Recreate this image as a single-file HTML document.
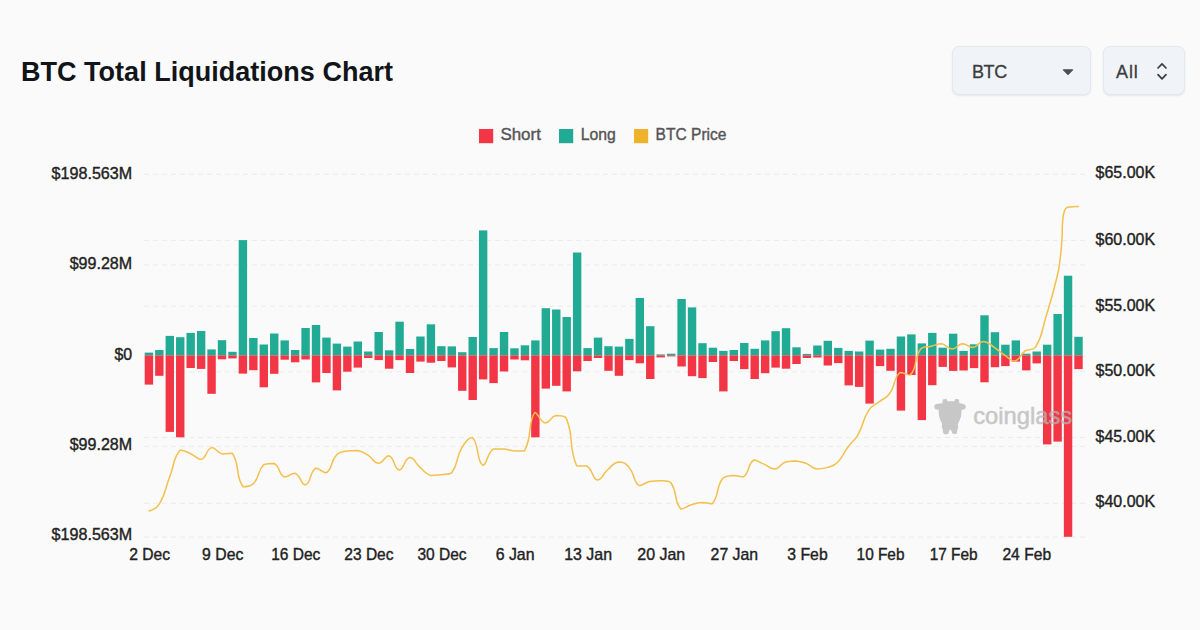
<!DOCTYPE html>
<html><head><meta charset="utf-8"><title>BTC Total Liquidations Chart</title>
<style>
html,body{margin:0;padding:0;}
body{width:1200px;height:630px;background:#fafafa;overflow:hidden;position:relative;font-family:"Liberation Sans",sans-serif;color:#1a1a1a;}
.title{position:absolute;left:21px;top:55.5px;font-size:27px;font-weight:bold;line-height:32px;white-space:nowrap;color:#111418;letter-spacing:0.02px;}
.sel{position:absolute;top:46px;height:49px;box-sizing:border-box;background:#f0f3f7;border:1px solid #e3e8ee;border-radius:7px;box-shadow:0 1px 2px rgba(0,0,0,0.08);font-size:18px;color:#3a3d42;line-height:47px;-webkit-text-stroke:0.3px #3a3d42;}
.sel span{position:absolute;top:2px;}
svg{position:absolute;left:0;top:0;}
svg text{font-family:"Liberation Sans",sans-serif;font-size:17px;fill:#222;stroke:#222;stroke-width:0.4px;}
svg .lg text{fill:#555;stroke:#555;}
</style></head><body>
<div class="title">BTC Total Liquidations Chart</div>
<div class="sel" style="left:952px;width:139px;"><span style="left:19px;letter-spacing:-0.4px;">BTC</span>
<svg width="12" height="7" style="left:108.5px;top:21.5px" viewBox="0 0 12 7"><path d="M1.2,0.8 L10.8,0.8 L6,5.8 Z" fill="#4b4f55" stroke="#4b4f55" stroke-width="1" stroke-linejoin="round"/></svg></div>
<div class="sel" style="left:1103px;width:82px;"><span style="left:12px;letter-spacing:0.9px;">All</span>
<svg width="14" height="22" style="left:51px;top:13px" viewBox="0 0 14 22"><path d="M3,8 L7,3.8 L11,8 M3,14.6 L7,18.8 L11,14.6" fill="none" stroke="#3a3d42" stroke-width="1.7" stroke-linecap="round" stroke-linejoin="round"/></svg></div>
<svg width="1200" height="630" viewBox="0 0 1200 630">
<g><line x1="144" x2="1085" y1="174.3" y2="174.3" stroke="#ebebeb" stroke-width="1" stroke-dasharray="5 4"/><line x1="144" x2="1085" y1="265.0" y2="265.0" stroke="#ebebeb" stroke-width="1" stroke-dasharray="5 4"/><line x1="144" x2="1085" y1="355.7" y2="355.7" stroke="#ebebeb" stroke-width="1" stroke-dasharray="5 4"/><line x1="144" x2="1085" y1="446.4" y2="446.4" stroke="#ebebeb" stroke-width="1" stroke-dasharray="5 4"/><line x1="144" x2="1085" y1="537.1" y2="537.1" stroke="#ebebeb" stroke-width="1" stroke-dasharray="5 4"/><line x1="144" x2="1085" y1="240.4" y2="240.4" stroke="#ebebeb" stroke-width="1" stroke-dasharray="5 4"/><line x1="144" x2="1085" y1="306.1" y2="306.1" stroke="#ebebeb" stroke-width="1" stroke-dasharray="5 4"/><line x1="144" x2="1085" y1="371.8" y2="371.8" stroke="#ebebeb" stroke-width="1" stroke-dasharray="5 4"/><line x1="144" x2="1085" y1="437.6" y2="437.6" stroke="#ebebeb" stroke-width="1" stroke-dasharray="5 4"/><line x1="144" x2="1085" y1="503.3" y2="503.3" stroke="#ebebeb" stroke-width="1" stroke-dasharray="5 4"/></g>
<g><rect x="144.70" y="352.6" width="8.4" height="2.8" fill="#22ab94"/><rect x="144.70" y="355.4" width="8.4" height="29.2" fill="#f23645"/><rect x="155.14" y="350.0" width="8.4" height="5.4" fill="#22ab94"/><rect x="155.14" y="355.4" width="8.4" height="20.4" fill="#f23645"/><rect x="165.59" y="335.9" width="8.4" height="19.5" fill="#22ab94"/><rect x="165.59" y="355.4" width="8.4" height="76.5" fill="#f23645"/><rect x="176.03" y="337.2" width="8.4" height="18.2" fill="#22ab94"/><rect x="176.03" y="355.4" width="8.4" height="81.9" fill="#f23645"/><rect x="186.48" y="332.9" width="8.4" height="22.5" fill="#22ab94"/><rect x="186.48" y="355.4" width="8.4" height="12.6" fill="#f23645"/><rect x="196.92" y="331.0" width="8.4" height="24.4" fill="#22ab94"/><rect x="196.92" y="355.4" width="8.4" height="13.5" fill="#f23645"/><rect x="207.37" y="349.4" width="8.4" height="6.0" fill="#22ab94"/><rect x="207.37" y="355.4" width="8.4" height="38.4" fill="#f23645"/><rect x="217.81" y="340.2" width="8.4" height="15.2" fill="#22ab94"/><rect x="217.81" y="355.4" width="8.4" height="3.9" fill="#f23645"/><rect x="228.26" y="351.8" width="8.4" height="3.6" fill="#22ab94"/><rect x="228.26" y="355.4" width="8.4" height="3.0" fill="#f23645"/><rect x="238.70" y="240.1" width="8.4" height="115.3" fill="#22ab94"/><rect x="238.70" y="355.4" width="8.4" height="18.2" fill="#f23645"/><rect x="249.15" y="338.0" width="8.4" height="17.4" fill="#22ab94"/><rect x="249.15" y="355.4" width="8.4" height="14.8" fill="#f23645"/><rect x="259.60" y="344.5" width="8.4" height="10.9" fill="#22ab94"/><rect x="259.60" y="355.4" width="8.4" height="31.9" fill="#f23645"/><rect x="270.04" y="333.5" width="8.4" height="21.9" fill="#22ab94"/><rect x="270.04" y="355.4" width="8.4" height="18.4" fill="#f23645"/><rect x="280.49" y="340.4" width="8.4" height="15.0" fill="#22ab94"/><rect x="280.49" y="355.4" width="8.4" height="4.3" fill="#f23645"/><rect x="290.93" y="350.0" width="8.4" height="5.4" fill="#22ab94"/><rect x="290.93" y="355.4" width="8.4" height="6.9" fill="#f23645"/><rect x="301.38" y="328.0" width="8.4" height="27.4" fill="#22ab94"/><rect x="301.38" y="355.4" width="8.4" height="4.1" fill="#f23645"/><rect x="311.82" y="325.0" width="8.4" height="30.4" fill="#22ab94"/><rect x="311.82" y="355.4" width="8.4" height="27.0" fill="#f23645"/><rect x="322.26" y="337.6" width="8.4" height="17.8" fill="#22ab94"/><rect x="322.26" y="355.4" width="8.4" height="17.6" fill="#f23645"/><rect x="332.71" y="343.6" width="8.4" height="11.8" fill="#22ab94"/><rect x="332.71" y="355.4" width="8.4" height="35.0" fill="#f23645"/><rect x="343.15" y="346.6" width="8.4" height="8.8" fill="#22ab94"/><rect x="343.15" y="355.4" width="8.4" height="16.3" fill="#f23645"/><rect x="353.60" y="341.5" width="8.4" height="13.9" fill="#22ab94"/><rect x="353.60" y="355.4" width="8.4" height="12.2" fill="#f23645"/><rect x="364.04" y="351.5" width="8.4" height="3.9" fill="#22ab94"/><rect x="364.04" y="355.4" width="8.4" height="2.6" fill="#f23645"/><rect x="374.49" y="332.0" width="8.4" height="23.4" fill="#22ab94"/><rect x="374.49" y="355.4" width="8.4" height="4.7" fill="#f23645"/><rect x="384.94" y="350.3" width="8.4" height="5.1" fill="#22ab94"/><rect x="384.94" y="355.4" width="8.4" height="13.3" fill="#f23645"/><rect x="395.38" y="321.7" width="8.4" height="33.7" fill="#22ab94"/><rect x="395.38" y="355.4" width="8.4" height="4.7" fill="#f23645"/><rect x="405.82" y="349.0" width="8.4" height="6.4" fill="#22ab94"/><rect x="405.82" y="355.4" width="8.4" height="17.6" fill="#f23645"/><rect x="416.27" y="336.5" width="8.4" height="18.9" fill="#22ab94"/><rect x="416.27" y="355.4" width="8.4" height="6.2" fill="#f23645"/><rect x="426.71" y="324.3" width="8.4" height="31.1" fill="#22ab94"/><rect x="426.71" y="355.4" width="8.4" height="7.3" fill="#f23645"/><rect x="437.16" y="346.2" width="8.4" height="9.2" fill="#22ab94"/><rect x="437.16" y="355.4" width="8.4" height="5.6" fill="#f23645"/><rect x="447.61" y="346.4" width="8.4" height="9.0" fill="#22ab94"/><rect x="447.61" y="355.4" width="8.4" height="12.0" fill="#f23645"/><rect x="458.05" y="352.2" width="8.4" height="3.2" fill="#22ab94"/><rect x="458.05" y="355.4" width="8.4" height="35.4" fill="#f23645"/><rect x="468.50" y="337.0" width="8.4" height="18.4" fill="#22ab94"/><rect x="468.50" y="355.4" width="8.4" height="44.6" fill="#f23645"/><rect x="478.94" y="230.4" width="8.4" height="125.0" fill="#22ab94"/><rect x="478.94" y="355.4" width="8.4" height="24.0" fill="#f23645"/><rect x="489.38" y="348.1" width="8.4" height="7.3" fill="#22ab94"/><rect x="489.38" y="355.4" width="8.4" height="27.7" fill="#f23645"/><rect x="499.83" y="332.0" width="8.4" height="23.4" fill="#22ab94"/><rect x="499.83" y="355.4" width="8.4" height="16.1" fill="#f23645"/><rect x="510.27" y="348.3" width="8.4" height="7.1" fill="#22ab94"/><rect x="510.27" y="355.4" width="8.4" height="4.1" fill="#f23645"/><rect x="520.72" y="345.3" width="8.4" height="10.1" fill="#22ab94"/><rect x="520.72" y="355.4" width="8.4" height="4.9" fill="#f23645"/><rect x="531.16" y="340.4" width="8.4" height="15.0" fill="#22ab94"/><rect x="531.16" y="355.4" width="8.4" height="81.9" fill="#f23645"/><rect x="541.61" y="308.2" width="8.4" height="47.2" fill="#22ab94"/><rect x="541.61" y="355.4" width="8.4" height="33.2" fill="#f23645"/><rect x="552.06" y="309.5" width="8.4" height="45.9" fill="#22ab94"/><rect x="552.06" y="355.4" width="8.4" height="30.4" fill="#f23645"/><rect x="562.50" y="317.0" width="8.4" height="38.4" fill="#22ab94"/><rect x="562.50" y="355.4" width="8.4" height="36.0" fill="#f23645"/><rect x="572.94" y="252.5" width="8.4" height="102.9" fill="#22ab94"/><rect x="572.94" y="355.4" width="8.4" height="15.9" fill="#f23645"/><rect x="583.39" y="348.1" width="8.4" height="7.3" fill="#22ab94"/><rect x="583.39" y="355.4" width="8.4" height="5.6" fill="#f23645"/><rect x="593.84" y="337.6" width="8.4" height="17.8" fill="#22ab94"/><rect x="593.84" y="355.4" width="8.4" height="2.6" fill="#f23645"/><rect x="604.28" y="346.2" width="8.4" height="9.2" fill="#22ab94"/><rect x="604.28" y="355.4" width="8.4" height="15.4" fill="#f23645"/><rect x="614.73" y="346.6" width="8.4" height="8.8" fill="#22ab94"/><rect x="614.73" y="355.4" width="8.4" height="20.4" fill="#f23645"/><rect x="625.17" y="338.9" width="8.4" height="16.5" fill="#22ab94"/><rect x="625.17" y="355.4" width="8.4" height="4.7" fill="#f23645"/><rect x="635.62" y="298.0" width="8.4" height="57.4" fill="#22ab94"/><rect x="635.62" y="355.4" width="8.4" height="7.9" fill="#f23645"/><rect x="646.06" y="326.2" width="8.4" height="29.2" fill="#22ab94"/><rect x="646.06" y="355.4" width="8.4" height="23.6" fill="#f23645"/><rect x="656.50" y="354.4" width="8.4" height="1.0" fill="#22ab94"/><rect x="656.50" y="355.4" width="8.4" height="2.0" fill="#f23645"/><rect x="666.95" y="353.7" width="8.4" height="1.7" fill="#22ab94"/><rect x="666.95" y="355.4" width="8.4" height="1.0" fill="#f23645"/><rect x="677.39" y="299.0" width="8.4" height="56.4" fill="#22ab94"/><rect x="677.39" y="355.4" width="8.4" height="11.1" fill="#f23645"/><rect x="687.84" y="307.4" width="8.4" height="48.0" fill="#22ab94"/><rect x="687.84" y="355.4" width="8.4" height="20.8" fill="#f23645"/><rect x="698.29" y="343.2" width="8.4" height="12.2" fill="#22ab94"/><rect x="698.29" y="355.4" width="8.4" height="22.7" fill="#f23645"/><rect x="708.73" y="347.7" width="8.4" height="7.7" fill="#22ab94"/><rect x="708.73" y="355.4" width="8.4" height="6.6" fill="#f23645"/><rect x="719.17" y="350.9" width="8.4" height="4.5" fill="#22ab94"/><rect x="719.17" y="355.4" width="8.4" height="36.0" fill="#f23645"/><rect x="729.62" y="350.0" width="8.4" height="5.4" fill="#22ab94"/><rect x="729.62" y="355.4" width="8.4" height="5.6" fill="#f23645"/><rect x="740.07" y="343.0" width="8.4" height="12.4" fill="#22ab94"/><rect x="740.07" y="355.4" width="8.4" height="13.7" fill="#f23645"/><rect x="750.51" y="348.8" width="8.4" height="6.6" fill="#22ab94"/><rect x="750.51" y="355.4" width="8.4" height="23.6" fill="#f23645"/><rect x="760.95" y="340.4" width="8.4" height="15.0" fill="#22ab94"/><rect x="760.95" y="355.4" width="8.4" height="17.8" fill="#f23645"/><rect x="771.40" y="331.2" width="8.4" height="24.2" fill="#22ab94"/><rect x="771.40" y="355.4" width="8.4" height="12.2" fill="#f23645"/><rect x="781.85" y="328.2" width="8.4" height="27.2" fill="#22ab94"/><rect x="781.85" y="355.4" width="8.4" height="13.3" fill="#f23645"/><rect x="792.29" y="347.3" width="8.4" height="8.1" fill="#22ab94"/><rect x="792.29" y="355.4" width="8.4" height="8.6" fill="#f23645"/><rect x="802.73" y="353.9" width="8.4" height="1.5" fill="#22ab94"/><rect x="802.73" y="355.4" width="8.4" height="2.6" fill="#f23645"/><rect x="813.18" y="345.5" width="8.4" height="9.9" fill="#22ab94"/><rect x="813.18" y="355.4" width="8.4" height="2.1" fill="#f23645"/><rect x="823.62" y="340.8" width="8.4" height="14.6" fill="#22ab94"/><rect x="823.62" y="355.4" width="8.4" height="10.1" fill="#f23645"/><rect x="834.07" y="347.9" width="8.4" height="7.5" fill="#22ab94"/><rect x="834.07" y="355.4" width="8.4" height="7.7" fill="#f23645"/><rect x="844.52" y="350.9" width="8.4" height="4.5" fill="#22ab94"/><rect x="844.52" y="355.4" width="8.4" height="30.0" fill="#f23645"/><rect x="854.96" y="351.5" width="8.4" height="3.9" fill="#22ab94"/><rect x="854.96" y="355.4" width="8.4" height="31.5" fill="#f23645"/><rect x="865.40" y="340.6" width="8.4" height="14.8" fill="#22ab94"/><rect x="865.40" y="355.4" width="8.4" height="48.2" fill="#f23645"/><rect x="875.85" y="349.6" width="8.4" height="5.8" fill="#22ab94"/><rect x="875.85" y="355.4" width="8.4" height="10.7" fill="#f23645"/><rect x="886.30" y="348.8" width="8.4" height="6.6" fill="#22ab94"/><rect x="886.30" y="355.4" width="8.4" height="15.4" fill="#f23645"/><rect x="896.74" y="336.5" width="8.4" height="18.9" fill="#22ab94"/><rect x="896.74" y="355.4" width="8.4" height="55.2" fill="#f23645"/><rect x="907.18" y="334.4" width="8.4" height="21.0" fill="#22ab94"/><rect x="907.18" y="355.4" width="8.4" height="19.6" fill="#f23645"/><rect x="917.63" y="343.4" width="8.4" height="12.0" fill="#22ab94"/><rect x="917.63" y="355.4" width="8.4" height="64.7" fill="#f23645"/><rect x="928.08" y="332.9" width="8.4" height="22.5" fill="#22ab94"/><rect x="928.08" y="355.4" width="8.4" height="29.8" fill="#f23645"/><rect x="938.52" y="347.7" width="8.4" height="7.7" fill="#22ab94"/><rect x="938.52" y="355.4" width="8.4" height="11.5" fill="#f23645"/><rect x="948.96" y="333.7" width="8.4" height="21.7" fill="#22ab94"/><rect x="948.96" y="355.4" width="8.4" height="15.5" fill="#f23645"/><rect x="959.41" y="350.9" width="8.4" height="4.5" fill="#22ab94"/><rect x="959.41" y="355.4" width="8.4" height="15.1" fill="#f23645"/><rect x="969.86" y="344.3" width="8.4" height="11.1" fill="#22ab94"/><rect x="969.86" y="355.4" width="8.4" height="12.7" fill="#f23645"/><rect x="980.30" y="315.3" width="8.4" height="40.1" fill="#22ab94"/><rect x="980.30" y="355.4" width="8.4" height="26.9" fill="#f23645"/><rect x="990.75" y="332.2" width="8.4" height="23.2" fill="#22ab94"/><rect x="990.75" y="355.4" width="8.4" height="11.8" fill="#f23645"/><rect x="1001.19" y="344.7" width="8.4" height="10.7" fill="#22ab94"/><rect x="1001.19" y="355.4" width="8.4" height="10.7" fill="#f23645"/><rect x="1011.63" y="340.4" width="8.4" height="15.0" fill="#22ab94"/><rect x="1011.63" y="355.4" width="8.4" height="6.2" fill="#f23645"/><rect x="1022.08" y="353.7" width="8.4" height="1.7" fill="#22ab94"/><rect x="1022.08" y="355.4" width="8.4" height="15.0" fill="#f23645"/><rect x="1032.53" y="351.5" width="8.4" height="3.9" fill="#22ab94"/><rect x="1032.53" y="355.4" width="8.4" height="8.0" fill="#f23645"/><rect x="1042.97" y="344.7" width="8.4" height="10.7" fill="#22ab94"/><rect x="1042.97" y="355.4" width="8.4" height="89.0" fill="#f23645"/><rect x="1053.41" y="314.0" width="8.4" height="41.4" fill="#22ab94"/><rect x="1053.41" y="355.4" width="8.4" height="86.2" fill="#f23645"/><rect x="1063.86" y="275.7" width="8.4" height="79.7" fill="#22ab94"/><rect x="1063.86" y="355.4" width="8.4" height="181.4" fill="#f23645"/><rect x="1074.31" y="336.8" width="8.4" height="18.6" fill="#22ab94"/><rect x="1074.31" y="355.4" width="8.4" height="13.7" fill="#f23645"/></g>
<path d="M149.0,510.9C149.0,510.9 156.3,509.0 159.4,503.8C166.7,491.6 164.5,490.0 169.9,476.2C175.0,463.0 172.8,458.0 180.3,449.9C183.2,449.9 185.7,451.4 190.7,453.7C196.1,456.2 196.7,459.4 201.2,459.4C207.1,457.7 205.7,449.2 211.6,447.6C216.1,447.6 216.4,452.4 222.0,453.9C226.8,453.9 230.0,453.3 232.4,453.3C240.5,465.9 234.9,475.1 242.9,486.7C245.3,486.7 249.8,486.7 253.3,483.8C260.3,476.5 256.7,471.7 263.7,464.8C267.1,463.4 270.2,463.4 274.2,463.4C280.6,467.2 278.2,474.1 284.6,477.1C288.7,477.1 290.7,473.3 295.0,473.3C301.1,475.5 300.8,484.8 305.4,484.8C311.3,483.4 309.3,472.0 315.9,468.2C319.7,468.2 322.6,472.8 326.3,472.8C333.0,468.5 329.9,461.9 336.7,454.8C340.4,451.0 341.8,452.1 347.2,451.0C352.2,450.5 352.6,450.5 357.6,450.5C363.1,451.6 363.2,452.2 368.0,455.2C373.6,458.6 373.2,463.0 378.5,463.2C383.6,463.2 384.5,455.8 388.9,455.8C394.9,457.7 393.9,469.5 399.3,469.9C404.3,469.9 404.2,458.1 409.8,457.5C414.7,457.5 414.7,462.9 420.2,467.6C425.1,471.9 424.8,473.6 430.6,475.6C435.2,475.6 435.8,475.3 441.0,474.7C446.3,474.0 448.6,474.7 451.5,473.0C459.0,463.2 455.1,459.2 461.9,447.6C465.5,441.5 468.9,437.5 472.3,437.5C479.3,443.4 476.4,461.8 482.8,465.3C486.9,465.3 486.4,454.4 493.2,449.1C496.9,449.1 498.4,449.1 503.6,449.1C508.9,449.6 508.8,450.5 514.0,451.0C519.2,451.0 522.3,451.0 524.5,451.0C532.8,435.7 527.3,422.7 534.9,412.4C537.7,412.4 539.7,422.0 545.3,422.9C550.2,422.9 550.1,416.9 555.8,415.6C560.5,415.6 564.3,415.6 566.2,418.1C574.7,438.6 568.0,445.9 576.6,465.7C578.5,466.1 583.1,465.7 587.1,466.1C593.6,470.6 591.9,479.1 597.5,480.0C602.3,480.0 602.3,474.3 607.9,469.5C612.8,465.3 612.9,462.6 618.3,461.9C623.3,461.9 625.1,462.8 628.8,467.0C635.5,474.7 632.4,480.9 639.2,485.7C642.8,485.7 644.2,482.8 649.6,481.5C654.7,480.8 654.9,480.8 660.1,480.8C665.3,481.0 667.7,480.8 670.5,482.3C678.1,492.6 673.4,500.9 680.9,509.0C683.9,509.0 686.0,506.5 691.4,504.8C696.4,503.2 696.5,502.8 701.8,502.5C707.0,502.5 709.3,503.8 712.2,503.8C719.8,495.1 715.2,488.6 722.6,478.5C725.6,475.6 727.8,476.0 733.1,475.6C738.2,475.6 739.9,476.8 743.5,476.8C750.3,471.7 747.3,463.9 753.9,460.0C757.7,460.0 759.2,462.2 764.4,464.4C769.6,466.7 769.8,469.0 774.8,469.0C780.2,468.5 779.6,464.5 785.2,462.3C790.0,461.0 790.5,461.0 795.7,461.0C800.9,461.3 801.1,461.5 806.1,463.4C811.6,465.5 811.0,467.9 816.5,469.0C821.4,469.0 822.0,469.0 826.9,467.6C832.4,465.9 833.4,466.4 837.4,462.5C843.8,456.2 842.3,454.6 847.8,447.2C852.7,440.5 854.2,441.5 858.2,434.3C864.6,423.0 861.8,421.0 868.7,410.3C872.2,404.8 873.8,406.0 879.1,401.8C884.3,397.7 885.8,399.0 889.5,393.8C896.2,384.4 892.8,378.9 900.0,372.5C903.2,372.5 907.5,375.1 910.4,375.1C918.0,366.5 913.3,359.2 920.8,348.7C923.7,346.2 926.0,347.4 931.2,346.2C936.5,344.9 936.7,343.7 941.7,343.7C947.1,344.4 946.9,349.0 952.1,349.0C957.3,349.0 957.2,344.1 962.5,343.7C967.6,343.7 968.0,347.5 973.0,347.5C978.4,346.9 978.1,341.5 983.4,341.4C988.6,341.4 988.8,343.9 993.8,347.1C999.3,350.6 998.9,351.2 1004.3,354.8C1009.3,358.2 1009.9,361.0 1014.7,361.0C1020.4,360.0 1019.2,354.9 1025.1,351.0C1029.7,348.0 1032.9,351.0 1035.5,347.1C1043.3,334.3 1041.3,332.0 1046.0,316.6C1052.0,297.0 1052.2,297.0 1057.0,277.0C1059.4,267.2 1059.1,267.1 1060.4,257.0C1061.6,247.6 1061.4,247.5 1062.0,238.0C1062.5,230.0 1061.9,230.0 1062.6,222.0C1063.1,216.7 1062.7,216.4 1064.3,211.5C1065.1,209.0 1065.2,208.0 1067.5,207.2C1072.2,206.5 1078.3,206.5 1078.3,206.5" fill="none" stroke="#f3c04d" stroke-width="1.5" stroke-linejoin="round" stroke-linecap="round"/>
<g opacity="0.74" fill="#b6b6b6">
<path transform="translate(920,385) scale(0.15)" d="M152,96 L176,92 L184,108 L228,108 L236,92 L260,96 L262,122 Q290,122 303,135 Q310,150 298,162 L276,166 Q280,205 262,240 L252,262 Q258,280 250,296 L246,322 Q240,330 225,326 L215,322 L208,300 L196,300 L188,326 Q175,332 160,326 Q150,315 152,296 Q140,280 148,260 L138,240 Q120,205 126,166 L104,162 Q90,150 97,135 Q110,122 150,122 Z"/>
<text x="973.2" y="423.8" textLength="99" lengthAdjust="spacingAndGlyphs" style="font-size:24px;fill:#b6b6b6;stroke:#b6b6b6;stroke-width:0.55px">coinglass</text>
</g>
<g><text x="51.6" y="178.6" textLength="80.6" lengthAdjust="spacingAndGlyphs">$198.563M</text><text x="69.7" y="269.1" textLength="62.5" lengthAdjust="spacingAndGlyphs">$99.28M</text><text x="114.5" y="359.5" textLength="17.7" lengthAdjust="spacingAndGlyphs">$0</text><text x="69.7" y="450.0" textLength="62.5" lengthAdjust="spacingAndGlyphs">$99.28M</text><text x="51.6" y="540.4" textLength="80.6" lengthAdjust="spacingAndGlyphs">$198.563M</text><text x="1095.6" y="178.3" textLength="59.5" lengthAdjust="spacingAndGlyphs">$65.00K</text><text x="1095.6" y="245.2" textLength="59.5" lengthAdjust="spacingAndGlyphs">$60.00K</text><text x="1095.6" y="310.8" textLength="59.5" lengthAdjust="spacingAndGlyphs">$55.00K</text><text x="1095.6" y="376.3" textLength="59.5" lengthAdjust="spacingAndGlyphs">$50.00K</text><text x="1095.6" y="441.8" textLength="59.5" lengthAdjust="spacingAndGlyphs">$45.00K</text><text x="1095.6" y="507.1" textLength="59.5" lengthAdjust="spacingAndGlyphs">$40.00K</text><text x="129.2" y="559.6" textLength="40.8" lengthAdjust="spacingAndGlyphs">2 Dec</text><text x="202.1" y="559.6" textLength="41.2" lengthAdjust="spacingAndGlyphs">9 Dec</text><text x="271.2" y="559.6" textLength="49.2" lengthAdjust="spacingAndGlyphs">16 Dec</text><text x="344.3" y="559.6" textLength="49.2" lengthAdjust="spacingAndGlyphs">23 Dec</text><text x="417.4" y="559.6" textLength="49.2" lengthAdjust="spacingAndGlyphs">30 Dec</text><text x="495.7" y="559.6" textLength="38.8" lengthAdjust="spacingAndGlyphs">6 Jan</text><text x="564.2" y="559.6" textLength="47.9" lengthAdjust="spacingAndGlyphs">13 Jan</text><text x="637.3" y="559.6" textLength="47.9" lengthAdjust="spacingAndGlyphs">20 Jan</text><text x="710.6" y="559.6" textLength="47.5" lengthAdjust="spacingAndGlyphs">27 Jan</text><text x="787.3" y="559.6" textLength="40.4" lengthAdjust="spacingAndGlyphs">3 Feb</text><text x="856.6" y="559.6" textLength="47.9" lengthAdjust="spacingAndGlyphs">10 Feb</text><text x="929.7" y="559.6" textLength="47.9" lengthAdjust="spacingAndGlyphs">17 Feb</text><text x="1002.4" y="559.6" textLength="48.7" lengthAdjust="spacingAndGlyphs">24 Feb</text></g>
<g class="lg">
<rect x="479" y="129" width="14.2" height="14.2" fill="#f23645"/><text x="500.4" y="140.4" textLength="40.5" lengthAdjust="spacingAndGlyphs">Short</text>
<rect x="559" y="129" width="14.2" height="14.2" fill="#22ab94"/><text x="580.7" y="140.4" textLength="35.1" lengthAdjust="spacingAndGlyphs">Long</text>
<rect x="634" y="129" width="14.2" height="14.2" fill="#eeb32b"/><text x="655.6" y="140.4" textLength="70.9" lengthAdjust="spacingAndGlyphs">BTC Price</text>
</g>
</svg>
</body></html>
